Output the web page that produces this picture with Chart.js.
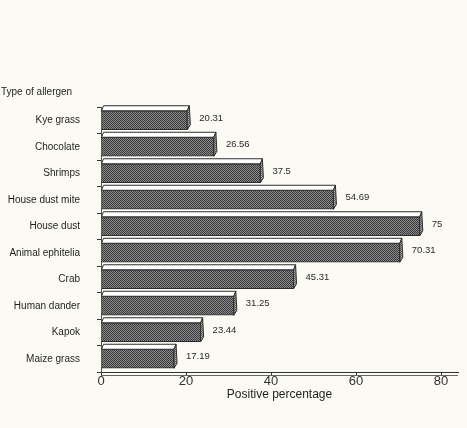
<!DOCTYPE html>
<html>
<head>
<meta charset="utf-8">
<script src="https://cdn.jsdelivr.net/npm/chart.js@4/dist/chart.umd.min.js"></script>
<style>
  html, body { margin: 0; padding: 0; background: #fbfaf4; }
  #wrap { width: 467px; height: 428px; position: relative; }
</style>
</head>
<body>
<div id="wrap"><canvas id="c" width="467" height="428"></canvas></div>
<script>
const categories = ["Kye grass", "Chocolate", "Shrimps", "House dust mite", "House dust",
                    "Animal ephitelia", "Crab", "Human dander", "Kapok", "Maize grass"];
const positivePercentage = [20.31, 26.56, 37.5, 54.69, 75, 70.31, 45.31, 31.25, 23.44, 17.19];
const xTicks = [0, 20, 40, 60, 80];
const yAxisTitle = "Type of allergen";
const xAxisTitle = "Positive percentage";

const FONT = "'Liberation Sans', Arial, sans-serif";

function makePattern(dark, light) {
  const p = document.createElement('canvas');
  p.width = 2; p.height = 2;
  const g = p.getContext('2d');
  g.fillStyle = light; g.fillRect(0, 0, 2, 2);
  g.fillStyle = dark; g.fillRect(0, 0, 1, 1); g.fillRect(1, 1, 1, 1);
  return document.getElementById('c').getContext('2d').createPattern(p, 'repeat');
}
const frontPattern = makePattern('#3a3a3a', '#8a8a8a');
const sidePattern = makePattern('#5a5a5a', '#b4b4b4');

const bg = {
  id: 'bg',
  beforeDraw(chart) {
    const ctx = chart.ctx;
    ctx.save();
    ctx.fillStyle = '#fbfaf4';
    ctx.fillRect(0, 0, chart.width, chart.height);
    ctx.restore();
  }
};

const bar3d = {
  id: 'bar3d',
  afterDatasetsDraw(chart) {
    const ctx = chart.ctx;
    const meta = chart.getDatasetMeta(0);
    const dx = 2, dy = 5;
    ctx.save();
    ctx.lineWidth = 1;
    ctx.strokeStyle = '#2e2e2e';
    meta.data.forEach((el, i) => {
      const top = el.y - el.height / 2;
      const bot = el.y + el.height / 2;
      const x0 = el.base, x1 = el.x;
      // top face
      ctx.beginPath();
      ctx.moveTo(x0, top);
      ctx.lineTo(x1, top);
      ctx.lineTo(x1 + dx, top - dy);
      ctx.lineTo(x0 + dx, top - dy);
      ctx.closePath();
      ctx.fillStyle = '#ffffff';
      ctx.fill();
      ctx.stroke();
      // side face
      ctx.beginPath();
      ctx.moveTo(x1, top);
      ctx.lineTo(x1 + dx, top - dy);
      ctx.lineTo(x1 + dx + 1, bot - dy);
      ctx.lineTo(x1, bot);
      ctx.closePath();
      ctx.fillStyle = sidePattern;
      ctx.fill();
      ctx.stroke();
      // value label
      ctx.fillStyle = '#2a2a2a';
      ctx.font = "9.5px " + FONT;
      ctx.textAlign = 'left';
      ctx.textBaseline = 'middle';
      ctx.fillText(String(positivePercentage[i]), x1 + 12, el.y - 2);
    });
    // 3D floor line under x axis
    const ca = chart.chartArea;
    ctx.beginPath();
    ctx.moveTo(ca.left, ca.bottom + 3.5);
    ctx.lineTo(ca.right, ca.bottom + 3.5);
    ctx.strokeStyle = '#666';
    ctx.stroke();
    // y axis title
    ctx.fillStyle = '#1e1e1e';
    ctx.font = "10px " + FONT;
    ctx.textAlign = 'left';
    ctx.textBaseline = 'middle';
    ctx.fillText(yAxisTitle, 1, 92);
    ctx.restore();
  }
};

new Chart(document.getElementById('c'), {
  type: 'bar',
  data: {
    labels: categories,
    datasets: [{
      data: positivePercentage,
      backgroundColor: frontPattern,
      borderColor: '#2e2e2e',
      borderWidth: 1,
      barThickness: 19
    }]
  },
  options: {
    indexAxis: 'y',
    responsive: false,
    animation: false,
    layout: { padding: { top: 107, right: 9, bottom: 26, left: 0 } },
    plugins: { legend: { display: false }, tooltip: { enabled: false } },
    scales: {
      x: {
        min: 0, max: 84,
        afterBuildTicks(scale) { scale.ticks = xTicks.map(v => ({ value: v })); },
        grid: { display: true, drawOnChartArea: false, tickLength: 4, color: '#333' },
        border: { display: true, color: '#333', width: 1 },
        ticks: { color: '#333', font: { family: FONT, size: 13 }, padding: -2 },
        title: { display: true, text: xAxisTitle, color: '#1e1e1e',
                 font: { family: FONT, size: 12 }, padding: { top: 0, bottom: 0 } }
      },
      y: {
        afterFit(scale) { scale.width = 101; },
        grid: { display: true, drawOnChartArea: false, tickLength: 4, color: '#333' },
        border: { display: true, color: '#555', width: 1 },
        ticks: { color: '#1e1e1e', font: { family: FONT, size: 10 }, padding: 17 }
      }
    }
  },
  plugins: [bg, bar3d]
});
</script>
</body>
</html>
